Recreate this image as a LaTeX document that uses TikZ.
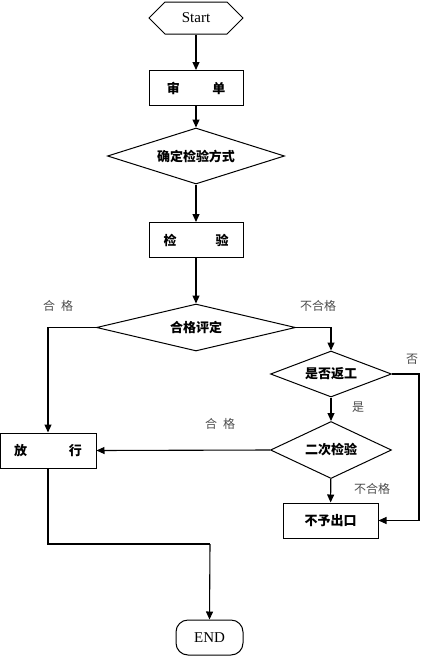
\documentclass[tikz,border=0pt]{standalone}
\usepackage{fontspec}
\setmainfont{Liberation Serif}
\newfontfamily\cjk{Noto Sans CJK SC}
\usetikzlibrary{arrows.meta,shapes.geometric,shapes.symbols}
\begin{document}
\begin{tikzpicture}[x=1pt,y=-1pt,
  every node/.style={inner sep=0pt},
  conn/.style={line width=1.1pt,-{Triangle[length=8pt,width=7pt]}},
  line/.style={line width=1.1pt},
  procbox/.style={draw,line width=1pt,rectangle,minimum width=94pt,minimum height=35pt,font=\cjk\bfseries\fontsize{13}{15}\selectfont},
  decide/.style={draw,line width=1pt,diamond,font=\cjk\bfseries\fontsize{13}{15}\selectfont},
  term/.style={draw,line width=1pt,font=\fontsize{15}{17}\selectfont},
  lbl/.style={font=\cjk\fontsize{12}{14}\selectfont,text=black!70}]
\useasboundingbox (0,0) rectangle (434,657);
\node[term,signal,signal to=west and east,signal pointer angle=90,minimum width=94pt,minimum height=32pt] (start) at (196,18) {Start};
\node[procbox] (shen) at (196,88) {审\hspace{2.5em}单};
\node[decide,aspect=3.16,minimum width=177pt,minimum height=56pt] (qd) at (196,156) {确定检验方式};
\node[procbox] (jy) at (196,240) {检\hspace{3em}验};
\node[decide,aspect=4.23,minimum width=199pt,minimum height=47pt] (hg) at (196,327.5) {合格评定};
\node[decide,aspect=2.63,minimum width=121pt,minimum height=46pt] (sf) at (331,374) {是否返工};
\node[decide,aspect=2.12,minimum width=121pt,minimum height=57pt] (ec) at (331,450) {二次检验};
\node[procbox,minimum width=96pt] (fx) at (48,450.5) {放\hspace{3.2em}行};
\node[procbox,minimum width=95pt] (bc) at (330.5,520.5) {不予出口};
\node[term,rectangle,rounded corners=12pt,minimum width=67pt,minimum height=35pt] (end) at (209.5,637.5) {END};
\coordinate (k) at (210,544);
\coordinate (r) at (419,374);
\draw[conn] (start) -- (shen);
\draw[conn] (shen) -- (qd);
\draw[conn] (qd) -- (jy);
\draw[conn] (jy) -- (hg);
\draw[conn] (hg.west) -| (fx.north);
\draw[conn] (hg.east) -| (sf.north);
\draw[conn] (sf) -- (ec);
\draw[conn] (ec) -- (bc);
\draw[conn] (ec.west) -- (fx.east);
\draw[conn] (sf.east) -- (r) |- (bc.east);
\draw[line] (fx.south) |- (k);
\draw[conn] (k) -- (end.north);
\node[lbl] (l1) at (58,306) {合\hspace{0.5em}格};
\node[lbl] (l2) at (318,306) {不合格};
\node[lbl] (l3) at (412,359) {否};
\node[lbl] (l4) at (358,407) {是};
\node[lbl] (l5) at (220,424) {合\hspace{0.5em}格};
\node[lbl] (l6) at (372,489) {不合格};
\end{tikzpicture}
\end{document}
